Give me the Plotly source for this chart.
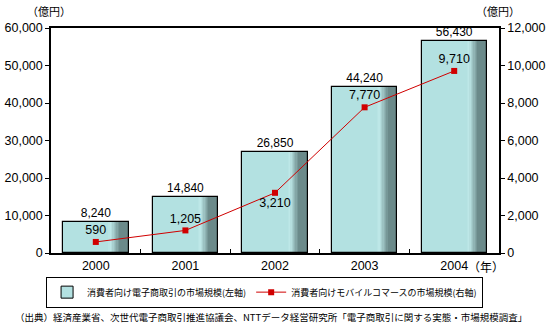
import plotly.graph_objects as go

years = ["2000", "2001", "2002", "2003", "2004"]
ec_market = [8240, 14840, 26850, 44240, 56430]
mobile_market = [590, 1205, 3210, 7770, 9710]
mobile_text_pos = ["top center", "top center", "bottom center", "top center", "top center"]

bar_name = "消費者向け電子商取引の市場規模(左軸)"
line_name = "消費者向けモバイルコマースの市場規模(右軸)"
source_text = "（出典）経済産業省、次世代電子商取引推進協議会、NTTデータ経営研究所「電子商取引に関する実態・市場規模調査」"

FONT = "Noto Sans CJK JP"
NUMFONT = "Liberation Sans"
W = 0.73
light = (179, 225, 225)
lighter = (190, 232, 232)
dark = (107, 138, 138)

fig = go.Figure()

# base bars
fig.add_trace(go.Bar(
    x=years, y=ec_market, name=bar_name, width=W, offset=-W / 2,
    marker=dict(color="rgb(179,225,225)", line=dict(color="black", width=1)),
    showlegend=True, hoverinfo="skip",
))

# gradient strips on the right side of each bar
n = 10
f0, f1 = 0.68, 0.88
for i in range(n):
    a = f0 + (f1 - f0) * i / n
    t = i / (n - 1)
    if t < 0.25:
        c0, c1, tt = light, lighter, t / 0.25
    else:
        c0, c1, tt = lighter, dark, (t - 0.25) / 0.75
    col = tuple(round(c0[k] + (c1[k] - c0[k]) * tt) for k in range(3))
    fig.add_trace(go.Bar(
        x=years, y=ec_market, width=W * (f1 - f0) / n + 0.002,
        offset=-W / 2 + W * a,
        marker=dict(color="rgb(%d,%d,%d)" % col, line=dict(width=0)),
        showlegend=False, hoverinfo="skip",
    ))
fig.add_trace(go.Bar(
    x=years, y=ec_market, width=W * (1 - f1), offset=-W / 2 + W * f1,
    marker=dict(color="rgb(%d,%d,%d)" % dark, line=dict(width=0)),
    showlegend=False, hoverinfo="skip",
))
# outline
fig.add_trace(go.Bar(
    x=years, y=ec_market, width=W, offset=-W / 2,
    marker=dict(color="rgba(0,0,0,0)", line=dict(color="black", width=1.2)),
    showlegend=False, hoverinfo="skip",
))
# bar value labels
fig.add_trace(go.Scatter(
    x=years, y=ec_market, mode="markers+text",
    marker=dict(size=1.5, color="rgba(0,0,0,0)"),
    text=[f"{v:,}" for v in ec_market], textposition="top center",
    textfont=dict(family=NUMFONT, size=12, color="black"),
    cliponaxis=False, showlegend=False, hoverinfo="skip",
))

fig.add_trace(go.Scatter(
    x=years, y=mobile_market, name=line_name, yaxis="y2",
    mode="lines+markers+text",
    line=dict(color="#d00000", width=1),
    marker=dict(symbol="square", size=6, color="#d00000"),
    text=[f"{v:,}" for v in mobile_market], textposition=mobile_text_pos,
    textfont=dict(family=NUMFONT, size=12.5, color="black"),
    cliponaxis=False,
))

fig.update_layout(
    width=559, height=334,
    margin=dict(l=51, r=60, t=28, b=81, autoexpand=False),
    paper_bgcolor="white", plot_bgcolor="white",
    barmode="overlay", bargap=0,
    font=dict(family=FONT, size=12, color="black"),
    xaxis=dict(
        type="category", showline=True, linecolor="black", linewidth=1.5, mirror=True,
        ticks="inside", tickson="boundaries", ticklen=4, tickcolor="black",
        showgrid=False, tickfont=dict(family=NUMFONT, size=12.5), range=[-0.5, 4.5],
    ),
    yaxis=dict(
        range=[0, 60000], dtick=10000, tickformat=",d", showline=True, linecolor="black",
        linewidth=1.5, ticks="outside", ticklen=4, tickcolor="black", showgrid=False,
        zeroline=False, tickfont=dict(family=NUMFONT, size=12.5),
    ),
    yaxis2=dict(
        range=[0, 12000], dtick=2000, tickformat=",d", overlaying="y", side="right",
        showline=True, linecolor="black", linewidth=1.5, ticks="outside", ticklen=4,
        tickcolor="black", showgrid=False, zeroline=False,
        tickfont=dict(family=NUMFONT, size=12.5),
    ),
    legend=dict(
        orientation="h", x=-0.011, xanchor="left", y=-0.105, yanchor="top",
        bordercolor="black", borderwidth=1, font=dict(size=9),
        itemwidth=30, tracegroupgap=0,
    ),
    annotations=[
        dict(text="（億円）", xref="paper", yref="paper", x=-0.005, y=1.03,
             xanchor="center", yanchor="bottom", showarrow=False, font=dict(size=11)),
        dict(text="（億円）", xref="paper", yref="paper", x=0.998, y=1.03,
             xanchor="center", yanchor="bottom", showarrow=False, font=dict(size=11)),
        dict(text="（年）", xref="paper", yref="paper", x=0.971, y=-0.012,
             xanchor="center", yanchor="top", showarrow=False, font=dict(size=12)),
        dict(text=source_text, xref="paper", yref="paper", x=-0.085, y=-0.245,
             xanchor="left", yanchor="top", showarrow=False, font=dict(size=9.5)),
    ],
)

fig.write_html("out.html")
